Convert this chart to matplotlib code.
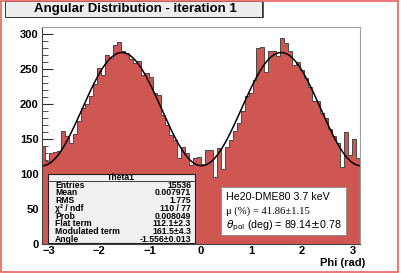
import numpy as np
import matplotlib
matplotlib.use("Agg")
import matplotlib.pyplot as plt
from matplotlib.patches import Rectangle
from matplotlib.ticker import MultipleLocator

# ---- data ----
counts = [140, 119, 130, 131, 133, 161, 155, 144, 158, 176,
          194, 200, 211, 228, 251, 242, 270, 266, 285, 289,
          276, 273, 265, 259, 262, 242, 244, 238, 216, 213,
          185, 170, 156, 149, 123, 139, 130, 113, 123, 125,
          114, 135, 135, 96, 137, 108, 139, 149, 161, 173,
          190, 211, 216, 235, 280, 281, 246, 276, 276, 268,
          294, 287, 276, 256, 260, 248, 237, 224, 204, 204,
          188, 180, 165, 155, 145, 110, 160, 127, 150, 123]
n_bins = 80
phi_min, phi_max = -np.pi, np.pi
flat_term = 112.1
mod_term = 161.5
angle = -1.556

stats_labels = ["Entries", "Mean", "RMS", "\u03c7\u00b2 / ndf", "Prob",
                "Flat term", "Modulated term", "Angle"]
stats_values = ["15536", "0.007971", "1.775", "110 / 77", "0.008049",
                "112.1\u00b12.3", "161.5\u00b14.3", "-1.556\u00b10.013"]

title = "Angular Distribution - iteration 1"
xlabel = "Phi (rad)"

W, H = 401, 273
fig = plt.figure(figsize=(W / 100, H / 100), dpi=100)
fig.patch.set_facecolor("white")

def fx(px):
    return px / W

def fy(py):
    return 1 - py / H

ax_l, ax_r, ax_t, ax_b = 41.5, 360.0, 27.0, 244.3
ax = fig.add_axes([fx(ax_l), fy(ax_b), fx(ax_r - ax_l), (ax_b - ax_t) / H])
ax.set_facecolor("white")

edges = np.linspace(phi_min, phi_max, n_bins + 1)
ax.stairs(counts, edges, fill=True, color="#cf5752", zorder=2)
ax.stairs(counts, edges, color="#4a4a4a", linewidth=0.7, zorder=3)

xf = np.linspace(phi_min, phi_max, 400)
yf = flat_term + mod_term * np.cos(xf - angle) ** 2
ax.plot(xf, yf, color="black", linewidth=1.1, zorder=4)

ax.set_xlim(phi_min, phi_max)
ax.set_ylim(0, 310)
ax.xaxis.set_major_locator(MultipleLocator(1))
ax.xaxis.set_minor_locator(MultipleLocator(0.1))
ax.yaxis.set_major_locator(MultipleLocator(50))
ax.yaxis.set_minor_locator(MultipleLocator(10))
ax.tick_params(axis="both", which="major", direction="in", length=8, width=0.8,
               color="#333333", labelsize=8, pad=2)
ax.tick_params(axis="both", which="minor", direction="in", length=4, width=0.6,
               color="#333333")
ax.tick_params(axis="x", which="major", pad=1)
for lab in ax.get_xticklabels() + ax.get_yticklabels():
    lab.set_fontweight("bold")
    lab.set_family("Liberation Sans")
for side in ["top", "right"]:
    ax.spines[side].set_color("#a0a0a0")
for side in ["left", "bottom"]:
    ax.spines[side].set_color("#444444")
for s in ax.spines.values():
    s.set_linewidth(0.8)
    s.set_zorder(6)

fig.text(fx(365), fy(263), xlabel, ha="right", va="center", fontsize=8,
         fontweight="bold", family="Liberation Sans")

# ---- stats box ----
sx0, sx1, sy0, sy1 = 47.5, 195.0, 174.0, 243.0
fig.patches.append(Rectangle((fx(sx0), fy(sy1)), fx(sx1 - sx0), (sy1 - sy0) / H,
                             transform=fig.transFigure, facecolor="#f0f0f0",
                             edgecolor="#222222", linewidth=0.8, zorder=10))
fig.lines.append(plt.Line2D([fx(sx0), fx(sx1)], [fy(181), fy(181)],
                            transform=fig.transFigure, color="#222222",
                            linewidth=0.6, zorder=11))
fig.text(fx((sx0 + sx1) / 2), fy(177.3), "Theta1", ha="center", va="center",
         fontsize=6.2, fontweight="bold", family="Liberation Sans", zorder=12)
row_y = [185.0, 192.7, 200.5, 208.3, 216.3, 224.0, 231.7, 239.3]
for lab, val, yy in zip(stats_labels, stats_values, row_y):
    fig.text(fx(55), fy(yy), lab, ha="left", va="center", fontsize=6.2,
             fontweight="bold", family="Liberation Sans", zorder=12)
    fig.text(fx(191), fy(yy), val, ha="right", va="center", fontsize=6.2,
             fontweight="bold", family="Liberation Sans", zorder=12)

# ---- text box ----
tx0, tx1, ty0, ty1 = 220.5, 345.5, 186.5, 235.0
fig.patches.append(Rectangle((fx(tx0), fy(ty1)), fx(tx1 - tx0), (ty1 - ty0) / H,
                             transform=fig.transFigure, facecolor="white",
                             edgecolor="#888888", linewidth=0.6, zorder=10))
fig.text(fx(225.5), fy(197), "He20-DME80 3.7 keV", ha="left", va="center",
         fontsize=7.7, family="Liberation Sans", zorder=12)
fig.text(fx(225.5), fy(211.5), "\u03bc (%) = 41.86\u00b11.15", ha="left", va="center",
         fontsize=7.7, family="Liberation Serif", zorder=12)
fig.text(fx(225.5), fy(225.5), r"$\theta_{\rm pol}$ (deg) = 89.14$\pm$0.78",
         ha="left", va="center", fontsize=7.7, family="Liberation Sans", zorder=12)

# ---- title box ----
bx0, bx1, by0, by1 = 5.0, 262.0, 1.0, 16.5
fig.patches.append(Rectangle((fx(bx0 + 1.5), fy(by1 + 1.5)), fx(bx1 - bx0), (by1 - by0) / H,
                             transform=fig.transFigure, facecolor="#555555",
                             edgecolor="none", zorder=9))
fig.patches.append(Rectangle((fx(bx0), fy(by1)), fx(bx1 - bx0), (by1 - by0) / H,
                             transform=fig.transFigure, facecolor="#ececec",
                             edgecolor="#333333", linewidth=0.7, zorder=10))
fig.text(fx(135), fy((by0 + by1) / 2 + 0.5), title, ha="center",
         va="center", fontsize=9.5, fontweight="bold", family="Liberation Sans",
         zorder=12)

# ---- canvas highlight border ----
fig.patches.append(Rectangle((fx(0.8), fy(271.5)), fx(398.0 - 0.8), 270.7 / H,
                             transform=fig.transFigure, facecolor="none",
                             edgecolor="#e8605e", linewidth=1.2, zorder=20))

fig.savefig("out.png", dpi=100)
